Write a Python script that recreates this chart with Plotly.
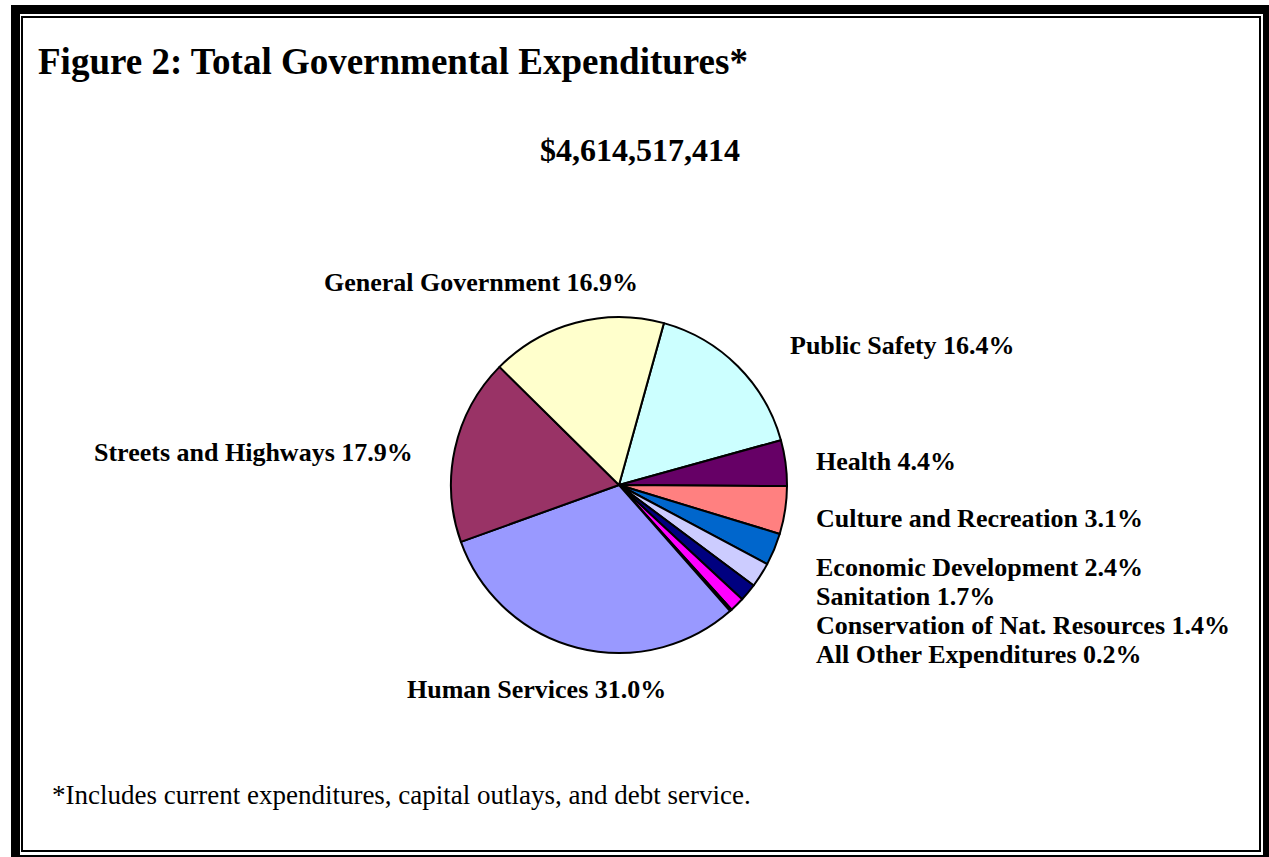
import plotly.graph_objects as go

W, H = 1269, 857

# ---- data ----
categories = ["Public Safety", "Health", "(unlabeled)", "Culture and Recreation",
              "Economic Development", "Sanitation", "Conservation of Nat. Resources",
              "All Other Expenditures", "Human Services", "Streets and Highways",
              "General Government"]
percents = [16.4, 4.4, 4.6, 3.1, 2.4, 1.7, 1.4, 0.2, 31.0, 17.9, 16.9]
colors = ["#CCFFFF", "#660066", "#FF8080", "#0066CC", "#CCCCFF", "#000080",
          "#FF00FF", "#000000", "#9999FF", "#993366", "#FFFFCC"]
total_text = "$4,614,517,414"
title_text = "Figure 2: Total Governmental Expenditures*"
footnote_text = "*Includes current expenditures, capital outlays, and debt service."

# label placement (pixel x of left edge / y of center), per category
label_pos = {
    "General Government": (322, 282),
    "Public Safety": (788, 345),
    "Streets and Highways": (92, 452),
    "Health": (814, 462),
    "Culture and Recreation": (814, 518),
    "Economic Development": (814, 567),
    "Sanitation": (814, 596),
    "Conservation of Nat. Resources": (814, 625),
    "All Other Expenditures": (814, 654),
    "Human Services": (405, 689),
}

def px(x):
    return x / W

def py(y):
    return 1 - y / H

cx, cy, r = 619, 485, 168

fig = go.Figure()
fig.add_trace(go.Pie(
    labels=categories, values=percents, sort=False, direction="clockwise",
    rotation=15.5, textinfo="none", hoverinfo="label+percent",
    marker=dict(colors=colors, line=dict(color="#000000", width=2)),
    domain=dict(x=[px(cx - r), px(cx + r)], y=[py(cy + r), py(cy - r)]),
    showlegend=False,
))

font_serif = "Liberation Serif, Times New Roman, serif"
annotations = []
for cat, val in zip(categories, percents):
    if cat not in label_pos:
        continue
    x, y = label_pos[cat]
    annotations.append(dict(
        x=px(x), y=py(y), xref="paper", yref="paper", xanchor="left", yanchor="middle",
        text=f"<b>{cat} {val:.1f}%</b>", showarrow=False,
        font=dict(family=font_serif, size=26, color="#000000"),
    ))

annotations.append(dict(x=px(36), y=py(62), xref="paper", yref="paper", xanchor="left",
                        yanchor="middle", text=f"<b>{title_text}</b>", showarrow=False,
                        font=dict(family=font_serif, size=37, color="#000000")))
annotations.append(dict(x=px(640), y=py(150), xref="paper", yref="paper", xanchor="center",
                        yanchor="middle", text=f"<b>{total_text}</b>", showarrow=False,
                        font=dict(family=font_serif, size=32, color="#000000")))
annotations.append(dict(x=px(50), y=py(795), xref="paper", yref="paper", xanchor="left",
                        yanchor="middle", text=footnote_text, showarrow=False,
                        font=dict(family=font_serif, size=27, color="#000000")))

shapes = []
def bar(x0, y0, x1, y1):
    shapes.append(dict(type="rect", xref="paper", yref="paper",
                       x0=px(x0), x1=px(x1), y0=py(y1), y1=py(y0),
                       fillcolor="#000000", line=dict(width=0)))
# outer thick frame
bar(11, 5, 20, H)          # left
bar(11, 5, W, 14)          # top
bar(1263, 5, W, H)         # right
bar(11, 855, W, H)         # bottom
# inner thin frame
bar(21, 16, 23, 852)       # left
bar(21, 16, 1261, 18)      # top
bar(1259, 16, 1261, 852)   # right
bar(21, 850, 1261, 852)    # bottom

fig.update_layout(
    width=W, height=H, margin=dict(l=0, r=0, t=0, b=0),
    paper_bgcolor="#FFFFFF", plot_bgcolor="#FFFFFF",
    annotations=annotations, shapes=shapes,
)

fig.write_html("out.html", config={"displayModeBar": False},
               post_script="document.body.style.margin='0';")
